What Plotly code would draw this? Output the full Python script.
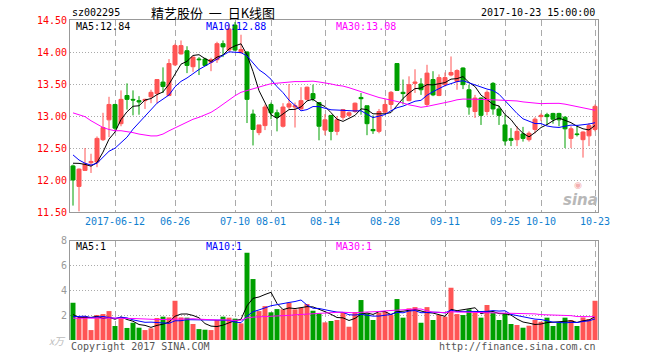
import numpy as np
import plotly.graph_objects as go

# ---------------- data ----------------
tick_index = [7, 17, 27, 33, 42, 52, 62, 72, 78, 87]
tick_labels = ["2017-06-12", "06-26", "07-10", "08-01", "08-14",
               "08-28", "09-11", "09-25", "10-10", "10-23"]

open_ = [12.22, 11.90, 12.15, 12.27, 12.28, 12.63, 12.94, 13.18, 12.88, 13.32,
         13.26, 13.24, 13.24, 13.30, 13.35, 13.53, 13.32, 13.80, 13.97, 14.02,
         13.77, 13.89, 13.89, 13.84, 13.88, 14.13, 14.03, 14.42, 13.99, 14.00,
         13.03, 12.74, 12.85, 13.18, 13.05, 12.84, 13.14, 13.14, 13.11, 13.26,
         13.35, 13.21, 12.78, 13.01, 12.76, 12.98, 13.01, 13.07, 13.29, 13.16,
         12.79, 12.76, 13.06, 13.18, 13.82, 13.37, 13.24, 13.51, 13.50, 13.18,
         13.57, 13.32, 13.49, 13.64, 13.54, 13.75, 13.41, 13.07, 13.28, 13.07,
         13.51, 13.11, 12.86, 12.65, 12.63, 12.72, 12.63, 12.79, 12.99, 13.02,
         13.04, 13.04, 12.98, 12.65, 12.72, 12.63, 12.69, 12.79]
high = [12.24, 12.18, 12.50, 12.41, 12.68, 13.05, 13.30, 13.19, 13.40, 13.51,
        13.40, 13.31, 13.27, 13.41, 13.57, 13.76, 13.89, 14.13, 14.18, 14.09,
        13.93, 13.92, 13.91, 13.91, 14.16, 14.18, 14.44, 14.47, 14.27, 14.01,
        13.10, 12.86, 13.18, 13.21, 13.10, 13.20, 13.50, 13.21, 13.45, 13.46,
        13.49, 13.21, 13.03, 13.01, 13.00, 13.11, 13.07, 13.21, 13.36, 13.16,
        13.01, 13.11, 13.27, 13.39, 13.82, 13.57, 13.62, 13.73, 13.59, 13.80,
        13.70, 13.65, 13.68, 13.93, 13.73, 13.76, 13.49, 13.33, 13.29, 13.40,
        13.53, 13.16, 13.02, 12.81, 12.84, 12.83, 12.76, 12.98, 13.04, 13.05,
        13.05, 13.05, 13.00, 12.84, 12.86, 12.76, 12.89, 13.18]
low = [11.60, 11.51, 12.14, 12.11, 12.20, 12.61, 12.67, 12.78, 12.84, 13.10,
       13.01, 13.02, 13.11, 13.20, 13.20, 13.36, 13.31, 13.78, 13.96, 13.67,
       13.69, 13.64, 13.78, 13.70, 13.83, 13.92, 14.01, 14.02, 13.98, 12.89,
       12.54, 12.70, 12.78, 12.95, 12.76, 12.82, 13.11, 12.82, 13.10, 13.24,
       13.23, 12.62, 12.70, 12.62, 12.70, 12.94, 12.98, 13.05, 13.02, 12.70,
       12.72, 12.73, 13.05, 13.10, 13.40, 13.18, 13.23, 13.36, 13.33, 13.15,
       13.31, 13.31, 13.46, 13.62, 13.41, 13.42, 13.02, 12.97, 12.86, 13.01,
       13.02, 12.86, 12.54, 12.53, 12.53, 12.60, 12.60, 12.73, 12.92, 12.86,
       12.88, 12.84, 12.50, 12.50, 12.68, 12.35, 12.53, 12.76]
close = [12.00, 12.17, 12.25, 12.29, 12.65, 12.82, 13.18, 12.81, 13.26, 13.26,
         13.25, 13.22, 13.26, 13.37, 13.57, 13.46, 13.82, 14.10, 14.10, 13.79,
         13.92, 13.88, 13.79, 13.88, 14.13, 14.08, 14.36, 14.03, 14.04, 13.26,
         12.79, 12.86, 13.14, 13.05, 12.98, 13.14, 13.19, 13.16, 13.24, 13.45,
         13.27, 12.84, 12.94, 12.76, 12.94, 13.10, 13.05, 13.20, 13.27, 12.88,
         12.77, 13.07, 13.18, 13.37, 13.40, 13.35, 13.49, 13.53, 13.41, 13.67,
         13.33, 13.60, 13.60, 13.68, 13.71, 13.49, 13.14, 13.28, 13.01, 13.37,
         13.11, 13.01, 12.61, 12.62, 12.76, 12.65, 12.73, 12.95, 13.01, 12.99,
         12.95, 12.94, 12.80, 12.80, 12.71, 12.75, 12.85, 13.15]
volume = [3.00, 1.82, 1.93, 0.80, 2.01, 2.09, 2.33, 1.13, 1.74, 0.97,
          1.39, 0.99, 0.80, 0.94, 1.77, 1.88, 1.82, 3.16, 1.82, 1.80,
          1.29, 0.88, 0.83, 0.80, 1.61, 1.88, 1.80, 1.72, 1.34, 7.02,
          4.91, 2.33, 2.73, 2.23, 2.49, 2.47, 3.00, 2.47, 2.60, 2.90,
          2.36, 2.14, 1.42, 1.53, 1.61, 2.23, 1.07, 2.25, 3.22, 2.14,
          1.61, 2.20, 2.28, 2.01, 3.30, 1.80, 2.55, 2.65, 1.39, 2.65,
          1.61, 2.01, 1.88, 4.21, 2.09, 2.01, 2.47, 2.20, 1.80, 2.82,
          2.20, 1.61, 2.14, 1.29, 1.21, 0.99, 1.15, 1.61, 1.47, 1.80,
          1.13, 1.39, 1.80, 1.61, 1.13, 1.82, 1.69, 3.16]

# sessions before the window (not drawn), inferred from where the MA lines start
prior_close = [13.00, 13.20, 14.20, 14.35, 14.30, 14.10, 13.40, 13.25, 13.60, 13.80,
               13.90, 13.80, 13.70, 13.55, 12.60, 12.30, 12.70, 12.80, 12.55, 12.45,
               12.97, 12.75, 12.59, 12.35, 11.95, 12.18, 12.33, 12.43, 12.37]
prior_volume = [1.9, 1.5, 2.2, 1.6, 1.4, 1.8, 2.0, 1.3, 1.7, 1.5,
                1.9, 1.6, 1.4, 2.1, 1.8, 1.5, 1.6, 1.9, 1.7, 1.5,
                1.8, 1.6, 1.9, 1.7, 1.5, 3.12, 1.83, 0.80, 1.55]

header_code = "sz002295"
header_title = "精艺股份  一  日K线图"
header_time = "2017-10-23 15:00:00"
price_ma_labels = ["MA5:12.84", "MA10:12.88", "MA30:13.08"]
vol_ma_labels = ["MA5:1", "MA10:1", "MA30:1"]

# ---------------- helpers ----------------
RED = "#ff5555"
GREEN = "#00a000"
BLUE_TXT = "#1080d0"
MA_COLORS = ["#000000", "#0000ff", "#ff00ff"]
MONO = "DejaVu Sans Mono"

n = len(close)
idx = list(range(n))


def sma(hist, vals, w):
    full = np.array(hist + vals, dtype=float)
    off = len(hist)
    return [float(full[off + i - w + 1: off + i + 1].mean()) for i in range(len(vals))]


L, R, T, B = 70, 62, 20, 20
W, H = 660, 360
PW, PH = W - L - R, H - T - B


def px(x):
    return (x - L) / PW


def py(y):
    return (H - B - y) / PH


fig = go.Figure()

fig.add_trace(go.Candlestick(
    x=idx, open=open_, high=high, low=low, close=close,
    increasing=dict(line=dict(color=RED, width=1), fillcolor=RED),
    decreasing=dict(line=dict(color=GREEN, width=1), fillcolor=GREEN),
    whiskerwidth=0, xaxis="x", yaxis="y", hoverinfo="skip"))

for w, col in zip([5, 10, 30], MA_COLORS):
    fig.add_trace(go.Scatter(x=idx, y=sma(prior_close, close, w), mode="lines",
                             line=dict(color=col, width=1), xaxis="x", yaxis="y",
                             hoverinfo="skip"))

vol_colors = [RED if c >= o else GREEN for o, c in zip(open_, close)]
fig.add_trace(go.Bar(x=idx, y=volume, marker=dict(color=vol_colors, line=dict(width=0)),
                     width=0.83, xaxis="x2", yaxis="y2", hoverinfo="skip"))
for w, col in zip([5, 10, 30], MA_COLORS):
    fig.add_trace(go.Scatter(x=idx, y=sma(prior_volume, volume, w), mode="lines",
                             line=dict(color=col, width=1), xaxis="x2", yaxis="y2",
                             hoverinfo="skip"))

price_ticks = [11.5, 12.0, 12.5, 13.0, 13.5, 14.0, 14.5]
GRIDC = "#aaaaaa"
LINEC = "#999999"

fig.update_layout(
    width=W, height=H, margin=dict(l=L, r=R, t=T, b=B),
    paper_bgcolor="white", plot_bgcolor="white", showlegend=False,
    hovermode=False, boxgap=1 / 3, boxgroupgap=0,
    font=dict(family=MONO, size=10),
    xaxis=dict(domain=[0, 1], anchor="y", range=[-0.5, n - 0.5],
               tickmode="array", tickvals=tick_index, ticktext=tick_labels,
               tickfont=dict(color=BLUE_TXT, size=10, family=MONO), ticks="",
               showgrid=True, gridcolor=GRIDC, griddash="6px,4px", gridwidth=1,
               showline=True, mirror=True, linecolor=LINEC, linewidth=1,
               zeroline=False, rangeslider=dict(visible=False)),
    yaxis=dict(domain=[py(212), 1], anchor="x", range=[11.5, 14.5],
               tickmode="array", tickvals=price_ticks,
               ticktext=["%.2f" % v for v in price_ticks],
               tickfont=dict(color="#ff0000", size=10, family=MONO), ticks="",
               showgrid=True, gridcolor=GRIDC, griddash="1px,2px", gridwidth=1,
               showline=True, mirror=True, linecolor=LINEC, linewidth=1,
               zeroline=False),
    xaxis2=dict(domain=[0, 1], anchor="y2", matches="x", range=[-0.5, n - 0.5],
                tickmode="array", tickvals=tick_index, showticklabels=False, ticks="",
                showgrid=True, gridcolor=GRIDC, griddash="6px,4px", gridwidth=1,
                showline=True, side="top", linecolor=LINEC, linewidth=1,
                zeroline=False),
    yaxis2=dict(domain=[0, py(240.7)], anchor="x2", range=[0, 8],
                tickmode="array", tickvals=[2, 4, 6, 8],
                tickfont=dict(color="#999999", size=10, family=MONO), ticks="",
                showgrid=True, gridcolor=GRIDC, griddash="1px,2px", gridwidth=1,
                showline=True, mirror=True, linecolor=LINEC, linewidth=1,
                zeroline=False),
)


def note(text, x, y, color="#000000", xanchor="left", size=10, family=MONO, **kw):
    fig.add_annotation(text=text, x=px(x), y=py(y), xref="paper", yref="paper",
                       xanchor=xanchor, yanchor="middle", showarrow=False,
                       font=dict(color=color, size=size, family=family, **kw))


note(header_code, 70, 12.5)
note(header_title, 213, 12.5, xanchor="center", size=13, family="Noto Sans CJK SC")
note(header_time, 597, 12.5, xanchor="right")
for lab, x0, col in zip(price_ma_labels, [74, 204, 334], MA_COLORS):
    note(lab, x0, 26, color=col)
for lab, x0, col in zip(vol_ma_labels, [74, 204, 334], MA_COLORS):
    note(lab, x0, 246, color=col)
note("x万", 57, 340, color="#bbbbbb", xanchor="center", size=10,
     family="Noto Sans CJK SC", style="italic")
note("Copyright 2017 SINA.COM", 69, 346, color="#555555")
note("http://finance.sina.com.cn", 598, 346, color="#555555", xanchor="right")
# sina watermark
note("◉", 578, 185, color="#f4b0b0", xanchor="center", size=9, family="DejaVu Sans")
note("sina", 580, 200, color="#b8b8b8", xanchor="center", size=15,
     family="DejaVu Sans", style="italic", weight="bold")

fig.write_html("out.html",
               config={"displayModeBar": False, "staticPlot": True},
               post_script="document.body.style.margin='0';"
                           "document.body.style.overflow='hidden';")
